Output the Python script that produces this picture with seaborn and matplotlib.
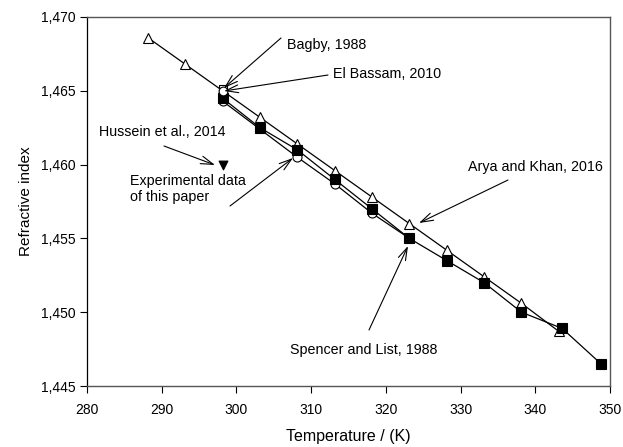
import matplotlib
matplotlib.use("Agg")
import matplotlib.pyplot as plt
import seaborn as sns
import numpy as np

# ---- data ----
arya_T = [288.15, 293.15, 298.15, 303.15, 308.15, 313.15, 318.15, 323.15, 328.15, 333.15, 338.15, 343.15]
arya_n = [1.4686, 1.4668, 1.4650, 1.4632, 1.4614, 1.4596, 1.4578, 1.4560, 1.4542, 1.4524, 1.4506, 1.4487]

spencer_T = [298.15, 303.15, 308.15, 313.15, 318.15, 323.15, 328.15, 333.15, 338.15, 343.6, 348.8]
spencer_n = [1.4645, 1.4625, 1.4610, 1.4590, 1.4570, 1.4550, 1.4535, 1.4520, 1.4500, 1.4489, 1.4465]

exp_T = [298.15, 308.15, 313.15, 318.15, 323.15]
exp_n = [1.4643, 1.4605, 1.4587, 1.4567, 1.4550]

bagby_T = [298.15]
bagby_n = [1.4651]
bassam_T = [298.15]
bassam_n = [1.4650]
hussein_T = [298.15]
hussein_n = [1.4600]

x_ticks = [280, 290, 300, 310, 320, 330, 340, 350]
y_ticks = [1.445, 1.450, 1.455, 1.460, 1.465, 1.470]
y_tick_labels = ["1,445", "1,450", "1,455", "1,460", "1,465", "1,470"]

plt.rcParams['font.family'] = ['Liberation Sans', 'DejaVu Sans']

fig = plt.figure(figsize=(6.23, 4.47), dpi=100)
ax = fig.add_axes([87/623, 1-386/447, (610-87)/623, (386-17)/447])

lw = 0.9
sns.lineplot(x=arya_T, y=arya_n, ax=ax, color='black', lw=lw, marker='^',
             markersize=7.5, markerfacecolor='white', markeredgecolor='black',
             markeredgewidth=0.8, sort=False, zorder=3)
sns.lineplot(x=exp_T, y=exp_n, ax=ax, color='black', lw=lw, marker='o',
             markersize=6.5, markerfacecolor='white', markeredgecolor='black',
             markeredgewidth=0.8, sort=False, zorder=3)
sns.lineplot(x=spencer_T, y=spencer_n, ax=ax, color='black', lw=lw, marker='s',
             markersize=6.5, markerfacecolor='black', markeredgecolor='black',
             markeredgewidth=0.8, sort=False, zorder=4)
sns.scatterplot(x=bagby_T, y=bagby_n, ax=ax, marker='s', s=40, facecolor='white',
                edgecolor='black', linewidth=0.8, zorder=5)
sns.scatterplot(x=bassam_T, y=bassam_n, ax=ax, marker='o', s=40, facecolor='white',
                edgecolor='black', linewidth=0.8, zorder=5)
sns.scatterplot(x=hussein_T, y=hussein_n, ax=ax, marker='v', s=40, facecolor='black',
                edgecolor='black', linewidth=0.8, zorder=5)

ax.set_xlim(280, 350)
ax.set_ylim(1.445, 1.470)
ax.set_xticks(x_ticks)
ax.set_xticklabels([str(t) for t in x_ticks])
ax.set_yticks(y_ticks)
ax.set_yticklabels(y_tick_labels)
ax.tick_params(direction='out', length=5, width=0.8, labelsize=10)
ax.tick_params(axis='x', pad=7)
ax.tick_params(axis='y', pad=3)
ax.set_xlabel("Temperature / (K)", fontsize=11.5, labelpad=9)
ax.set_ylabel("Refractive index", fontsize=11, labelpad=6)

for s in ['top', 'right', 'bottom']:
    ax.spines[s].set_color('#555555')
    ax.spines[s].set_linewidth(1.0)
ax.spines['left'].set_color('black')
ax.spines['left'].set_linewidth(0.9)

fs = 10.3
aprops = dict(arrowstyle='->,head_length=0.9,head_width=0.28', color='black',
              lw=0.8, shrinkA=0, shrinkB=0)

def px2d(x, y):
    return (280 + (x - 87) / (523 / 70), 1.470 - (y - 17) / (369 / 0.025))

def note(text, text_px, tail_px, tip_px, ha='left', va='center'):
    tx, ty = px2d(*text_px)
    ax.text(tx, ty, text, fontsize=fs, ha=ha, va=va, zorder=6, linespacing=1.15)
    ax.annotate('', xy=px2d(*tip_px), xytext=px2d(*tail_px),
                arrowprops=aprops, zorder=6)

note("Bagby, 1988", (287, 45), (281, 38), (224, 88))
note("El Bassam, 2010", (333, 74), (328, 75), (224, 91))
note("Hussein et al., 2014", (99, 132), (164, 146), (215, 165))
note("Experimental data\nof this paper", (130, 189), (230, 206), (293, 158))
note("Arya and Khan, 2016", (468, 167), (508, 180), (419, 223))
note("Spencer and List, 1988", (290, 350), (369, 330), (408, 246))

fig.savefig("out.png", dpi=100)
